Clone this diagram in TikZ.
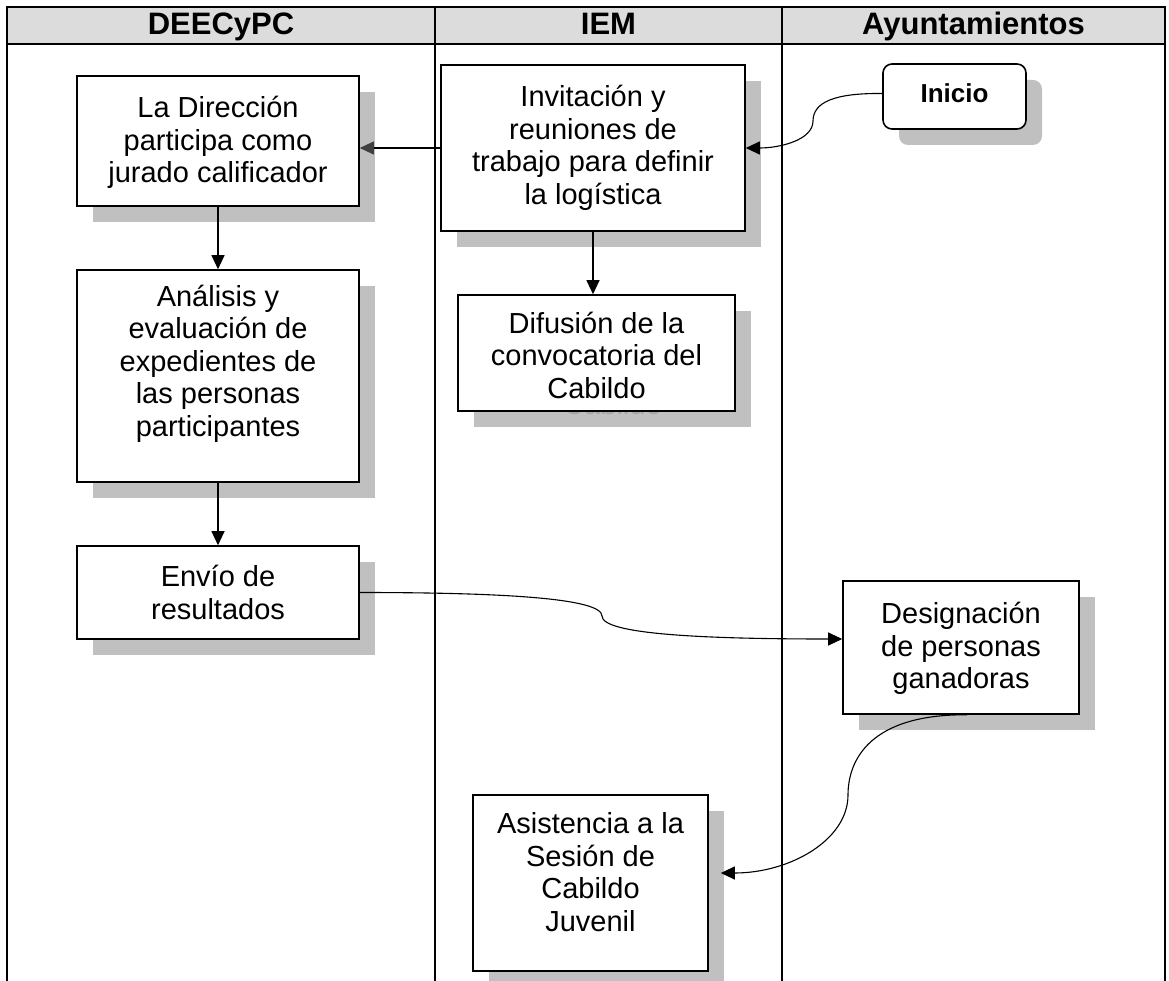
\documentclass[tikz,border=0pt]{standalone}
\usepackage{fontspec}
\setmainfont{Liberation Sans}
\usetikzlibrary{arrows.meta,shadows}
\definecolor{shadowc}{HTML}{C0C0C0}
\definecolor{headc}{HTML}{DCDCDC}
\begin{document}
\begin{tikzpicture}[x=1pt,y=-1pt,
  boxbase/.style={draw, line width=1.6pt, fill=white, inner sep=0pt},
  box/.style={boxbase, drop shadow={shadow xshift=16pt, shadow yshift=-16pt, fill=shadowc, opacity=1}},
  txt/.style={inner sep=0pt, align=center, font=\fontsize{29}{32.5}\selectfont},
  lane/.style={line width=1.8pt},
  conn/.style={line width=1.1pt, -{Triangle[length=14pt,width=13pt]}},
  head/.style={font=\fontsize{31}{31}\selectfont\bfseries, anchor=base},
]
\useasboundingbox (0,0) rectangle (1169,981);
% frame and lanes
\fill[headc] (7,7) rectangle (1165,44);
\draw[lane] (7,981) -- (7,7) -- (1165,7) -- (1165,981);
\draw[lane] (7,44) -- (1165,44);
\draw[lane] (435,7) -- (435,981);
\draw[lane] (782,7) -- (782,981);
\node[head] (h1) at (221,35) {DEECyPC};
\node[head] (h2) at (608.5,35) {IEM};
\node[head] (h3) at (973.5,35) {Ayuntamientos};
% boxes
\node[box, minimum width=282pt, minimum height=130pt] (b1) at (218,141) {};
\node[txt] (t1) at ([yshift=-1.5pt]b1.center) {La Dirección\\participa como\\jurado calificador};
\node[box, minimum width=304pt, minimum height=166pt] (b2) at (593,148) {};
\node[txt] (t2) at (b2.center) {Invitación y\\reuniones de\\trabajo para definir\\la logística};
\node[box, rounded corners=9pt, minimum width=143pt, minimum height=65pt,
  font=\fontsize{26}{28}\selectfont\bfseries] (b3) at (954.5,96.5)
  {\raisebox{-6.5pt}[0pt][0pt]{Inicio}};
\node[boxbase, draw=none, fill=shadowc, minimum width=277pt, minimum height=116pt] (b4s) at (612.5,369) {};
\node[txt, text=black!35] (t4s) at ([yshift=-2pt]b4s.center) {Difusión de la\\convocatoria del\\Cabildo};
\node[boxbase, minimum width=277pt, minimum height=116pt] (b4) at (596.5,353) {};
\node[txt] (t4) at ([yshift=-2pt]b4.center) {Difusión de la\\convocatoria del\\Cabildo};
\node[box, minimum width=282pt, minimum height=212pt] (b5) at (218,376) {};
\node[txt] (t5) at ([yshift=12.5pt]b5.center) {Análisis y\\evaluación de\\expedientes de\\las personas\\participantes};
\node[box, minimum width=282pt, minimum height=93pt] (b6) at (218,592.5) {};
\node[txt] (t6) at (b6.center) {Envío de\\resultados};
\node[box, minimum width=236pt, minimum height=133pt] (b7) at (961,647.5) {};
\node[txt] (t7) at ([yshift=-1pt]b7.center) {Designación\\de personas\\ganadoras};
\node[box, minimum width=235pt, minimum height=176pt] (b8) at (590.5,883) {};
\node[txt] (t8) at ([yshift=11pt]b8.center) {Asistencia a la\\Sesión de\\Cabildo\\Juvenil};
% connectors
\draw[line width=1.1pt, -{Triangle[length=14pt,width=13pt,color=black!75]}]
  (b2.west) -- (b2.west -| b1.east);
\draw[conn] ([yshift=3pt]b3.west) .. controls (835,93) and (813,102) .. (813,121)
  .. controls (813,140) and (780,148) .. (b2.east);
\draw[conn] (b2.south) -- (b2.south |- b4.north);
\draw[conn] (b1.south) -- (b5.north);
\draw[conn] (b5.south) -- (b6.north);
\draw[conn] (b6.east) .. controls (500,592.5) and (602,598) .. (602,616)
  .. controls (602,634) and (700,639) .. ([yshift=8.5pt]b7.west);
\draw[conn] ([xshift=6pt]b7.south) .. controls (870,714) and (848,760) .. (848,795)
  .. controls (848,840) and (790,873) .. ([xshift=12pt,yshift=10pt]b8.east);
\end{tikzpicture}
\end{document}
